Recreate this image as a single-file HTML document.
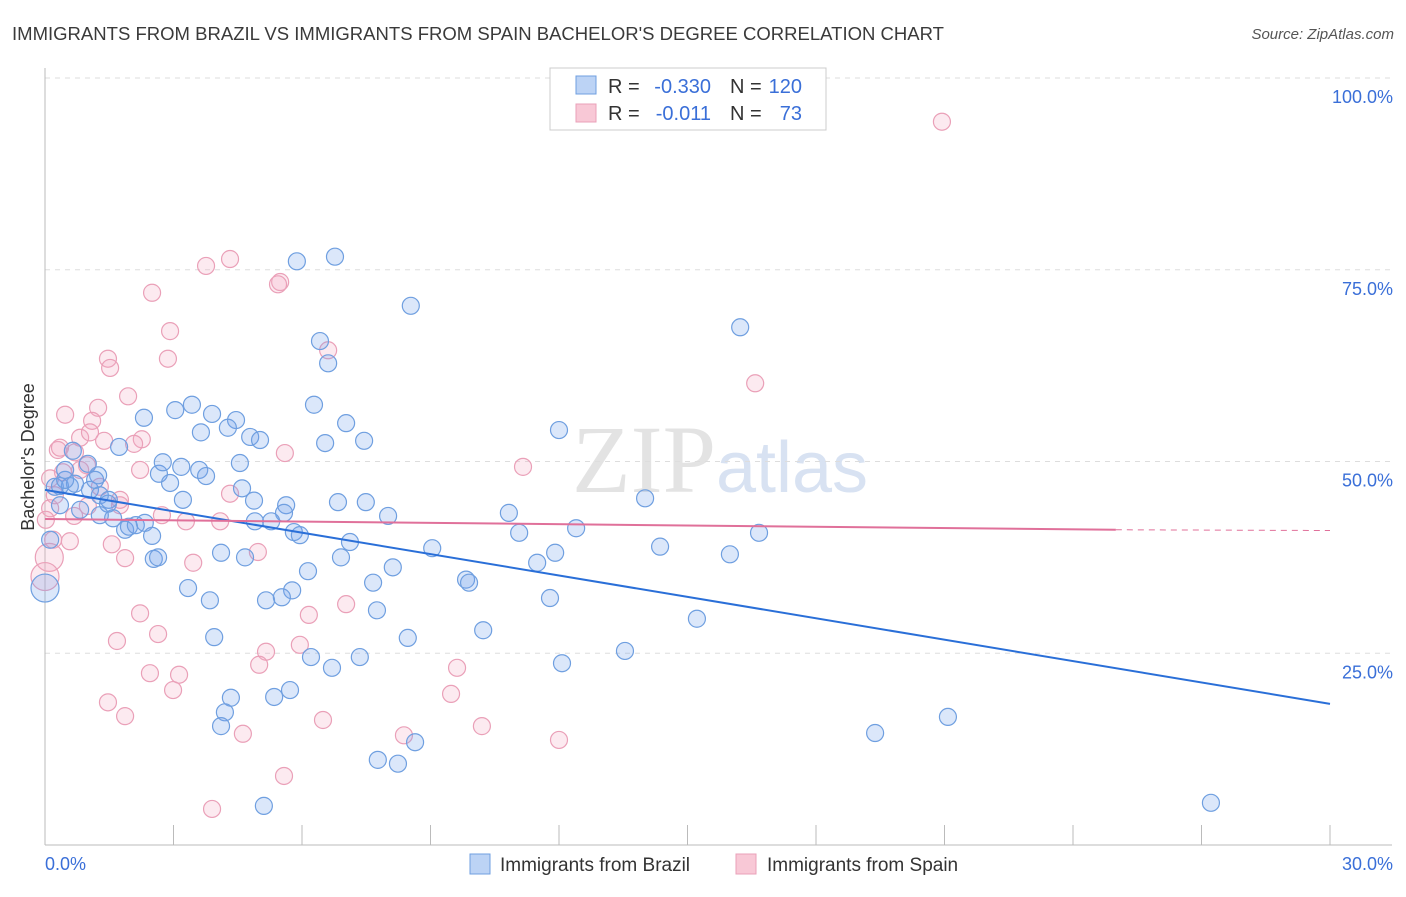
<!DOCTYPE html>
<html><head><meta charset="utf-8"><style>
body{margin:0;background:#fff;font-family:"Liberation Sans",sans-serif}
</style></head><body>
<svg id="chart" width="1406" height="892" xmlns="http://www.w3.org/2000/svg" font-family="Liberation Sans, sans-serif">
<text x="12" y="40" font-size="18" fill="#3a3a3a" textLength="932" lengthAdjust="spacingAndGlyphs">IMMIGRANTS FROM BRAZIL VS IMMIGRANTS FROM SPAIN BACHELOR'S DEGREE CORRELATION CHART</text>
<text x="1394" y="39" font-size="15" fill="#555" text-anchor="end" font-style="italic">Source: ZipAtlas.com</text>
<text x="720" y="492" font-size="96" text-anchor="middle" fill="#ddd" font-family="Liberation Serif, serif" opacity="0.8">ZIP<tspan fill="#cfdcf0" font-family="Liberation Sans, sans-serif" font-size="72">atlas</tspan></text>
<g id="grid"></g><g id="axes"></g><g id="pts"></g><g id="trend"></g>
<text transform="translate(34,457) rotate(-90)" font-size="18" fill="#333" text-anchor="middle">Bachelor's Degree</text>
<g font-size="20">
<rect x="550" y="68" width="276" height="62" fill="#fff" stroke="#ccc"/>
<rect x="576" y="76" width="20" height="18" fill="#bcd3f5" stroke="#6f9fe0"/>
<rect x="576" y="104" width="20" height="18" fill="#f8c8d6" stroke="#eaa0b8"/>
<text x="608" y="93" fill="#333">R =</text>
<text x="711" y="93" fill="#3a6fd8" text-anchor="end">-0.330</text>
<text x="730" y="93" fill="#333">N =</text>
<text x="802" y="93" fill="#3a6fd8" text-anchor="end">120</text>
<text x="608" y="120" fill="#333">R =</text>
<text x="711" y="120" fill="#3a6fd8" text-anchor="end">-0.011</text>
<text x="730" y="120" fill="#333">N =</text>
<text x="802" y="120" fill="#3a6fd8" text-anchor="end">73</text>
</g>
<g>
<rect x="470" y="854" width="20" height="20" fill="#bcd3f5" stroke="#6f9fe0"/>
<text x="500" y="871" font-size="19" fill="#333">Immigrants from Brazil</text>
<rect x="736" y="854" width="20" height="20" fill="#f8c8d6" stroke="#eaa0b8"/>
<text x="767" y="871" font-size="19" fill="#333">Immigrants from Spain</text>
</g>
</svg>
<script>
const brazilPx=[[297,261],[335,257],[411,306],[740,327],[320,341],[328,363],[314,405],[346,423],[364,441],[325,443],[559,430],[645,498],[175,410],[192,405],[212,414],[236,420],[201,432],[228,428],[250,437],[260,440],[144,418],[119,447],[159,474],[163,462],[170,483],[181,467],[199,470],[206,476],[240,463],[183,500],[254,501],[286,505],[284,513],[242,488],[338,502],[366,502],[388,516],[509,513],[519,533],[576,528],[660,547],[759,533],[730,554],[555,553],[537,563],[432,548],[350,542],[341,557],[294,532],[300,535],[271,521],[255,521],[221,553],[245,557],[292,590],[308,571],[152,536],[154,559],[158,557],[188,588],[210,600],[266,600],[282,597],[373,583],[393,567],[377,610],[466,580],[469,583],[550,598],[697,619],[483,630],[408,638],[214,637],[311,657],[360,657],[332,668],[625,651],[562,663],[290,690],[274,697],[231,698],[225,712],[221,726],[378,760],[398,764],[415,742],[875,733],[948,717],[264,806],[1211,803],[50,540],[55,487],[60,486],[70,486],[75,484],[65,480],[88,464],[98,475],[73,451],[80,510],[90,490],[100,495],[109,500],[113,518],[125,530],[129,527],[136,525],[145,523],[108,504],[95,480],[60,505],[100,515],[65,470]];
const spainPx=[[942,122],[230,259],[206,266],[280,282],[278,284],[152,293],[170,331],[108,359],[110,368],[168,359],[328,350],[755,383],[128,396],[98,408],[65,415],[92,421],[142,439],[134,444],[104,441],[80,438],[90,432],[58,450],[75,452],[63,472],[87,465],[523,467],[285,453],[230,494],[120,505],[88,506],[74,516],[50,508],[55,495],[46,520],[162,515],[186,521],[220,521],[258,552],[112,544],[70,541],[125,558],[193,563],[346,604],[309,615],[140,613],[158,634],[117,641],[266,652],[300,645],[259,665],[457,668],[150,673],[179,675],[173,690],[451,694],[108,702],[125,716],[323,720],[482,726],[243,734],[404,735],[559,740],[284,776],[212,809],[50,478],[60,448],[80,470],[100,487],[120,500],[140,470],[53,540]];
const brazilX=brazilPx.map(p=>+((p[0]-45)/1285*30).toFixed(2));
const brazilY=brazilPx.map(p=>+((845-p[1])/767*100).toFixed(1));
const spainX=spainPx.map(p=>+((p[0]-45)/1285*30).toFixed(2));
const spainY=spainPx.map(p=>+((845-p[1])/767*100).toFixed(1));
const bigBrazil=[[0,33.5]], bigSpain=[[0.1,37.5],[0,35]];
const yTicks=[25,50,75,100];
const yTickLabels=["25.0%","50.0%","75.0%","100.0%"];
const brazilTrend=[[0,46.3],[30,18.4]];
const spainTrend=[[0,42.5],[25,41.1],[30,41.0]];
const X=v=>45+v/30*1285, Y=v=>845-v/100*767;
const ns="http://www.w3.org/2000/svg";
function mk(t,a,parent){const e=document.createElementNS(ns,t);for(const k in a)e.setAttribute(k,a[k]);document.getElementById(parent).appendChild(e);return e;}
yTicks.forEach((t,i)=>{
 const g=mk('line',{x1:45,x2:1392,y1:Y(t),y2:Y(t),stroke:'#ddd','stroke-dasharray':'5,5'},'grid');
 
 
 const l=mk('text',{x:1393,y:Y(t)+25,'font-size':18,fill:'#3a6fd8','text-anchor':'end'},'axes');
 l.textContent=yTickLabels[i];
 
 
});
mk('line',{x1:45,x2:45,y1:68,y2:845,stroke:'#bbb'},'axes');
mk('line',{x1:45,x2:1392,y1:845,y2:845,stroke:'#bbb'},'axes');
for(let i=1;i<=10;i++){const t=mk('line',{x1:X(i*3),x2:X(i*3),y1:825,y2:845,stroke:'#bbb'},'axes');}
let a=mk('text',{x:45,y:870,'font-size':18,fill:'#3a6fd8'},'axes');a.textContent='0.0%';

a=mk('text',{x:1393,y:870,'font-size':18,fill:'#3a6fd8','text-anchor':'end'},'axes');a.textContent='30.0%';

function pt(x,y,r,c,s,name){const e=mk('circle',{cx:X(x),cy:Y(y),r:r,fill:c,stroke:s,'stroke-width':1.2},'pts');
 
 }
spainX.forEach((x,i)=>pt(x,spainY[i],8.5,'rgba(245,170,195,0.25)','#eaa0b8','spain-point'));
bigSpain.forEach(p=>pt(p[0],p[1],14,'rgba(245,170,195,0.25)','#eaa0b8','spain-point'));
brazilX.forEach((x,i)=>pt(x,brazilY[i],8.5,'rgba(110,160,235,0.25)','#6f9fe0','brazil-point'));
bigBrazil.forEach(p=>pt(p[0],p[1],14,'rgba(110,160,235,0.25)','#6f9fe0','brazil-point'));
let t=mk('line',{x1:X(brazilTrend[0][0]),y1:Y(brazilTrend[0][1]),x2:X(brazilTrend[1][0]),y2:Y(brazilTrend[1][1]),stroke:'#2a6fd8','stroke-width':2},'trend');

t=mk('line',{x1:X(spainTrend[0][0]),y1:Y(spainTrend[0][1]),x2:X(spainTrend[1][0]),y2:Y(spainTrend[1][1]),stroke:'#e0709a','stroke-width':2},'trend');

t=mk('line',{x1:X(spainTrend[1][0]),y1:Y(spainTrend[1][1]),x2:X(spainTrend[2][0]),y2:Y(spainTrend[2][1]),stroke:'#e0709a','stroke-width':1,'stroke-dasharray':'6,5'},'trend');

</script>
</body></html>
